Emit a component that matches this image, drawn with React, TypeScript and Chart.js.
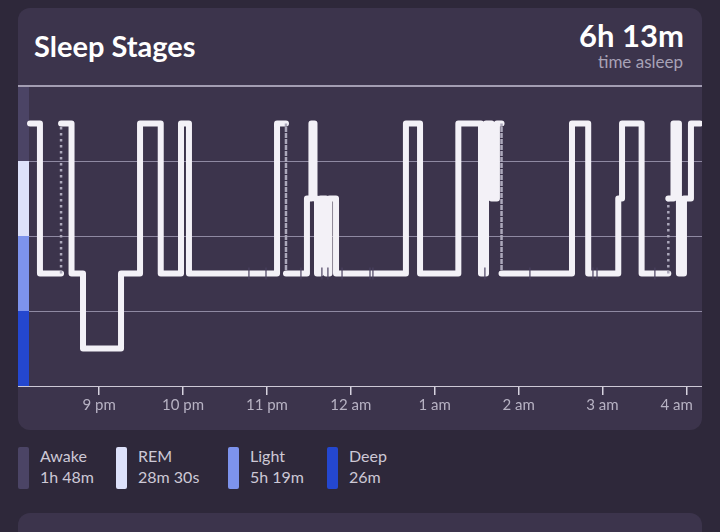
import React, { useEffect, useRef } from 'react';
import { Chart, registerables } from 'chart.js';

Chart.register(...registerables);

// Minutes after 8:00 pm at which each sleep stage begins
const stageChangeMinutes = [
  10.5, 17.6, 32.7, 40.2, 48.4, 75.6, 89.2, 104.0, 118.5, 124.2,
  187.2, 193.6, 208.6, 211.8, 214.0, 215.8, 218.3, 222.2, 224.7, 229.4,
  279.4, 289.5, 316.9, 333.1, 336.7, 340.6, 344.5, 347.8, 398.2, 409.8,
  431.3, 434.0, 448.0, 467.1, 470.8, 474.7, 478.3, 483.3,
];
const stageSequence = [
  'Awake', 'Light', 'Awake', 'Light', 'Deep', 'Light', 'Awake', 'Light', 'Awake', 'Light',
  'Awake', 'Light', 'REM', 'Awake', 'REM', 'Light', 'REM', 'Light', 'REM', 'Light',
  'Awake', 'Light', 'Awake', 'Light', 'Awake', 'REM', 'Awake', 'Light', 'Awake', 'Light',
  'REM', 'Awake', 'Light', 'REM', 'Awake', 'Light', 'REM', 'Awake',
];
const sleepEndMinute = 489.7;
// Transitions drawn as dotted lines
const dottedChangeMinutes = [32.7, 193.6, 347.8, 467.1];
// Brief restless moments marked on the Light level
const briefMarkMinutes = [167.1, 179.3, 204.3, 219.3, 223.6, 233.7, 253.7, 255.8, 335.9, 368.1, 413.2, 416.1, 457.5];

// Stage bands, bottom to top
const bandStages = ['Deep', 'Light', 'REM', 'Awake'];
const bandColors = ['#2447cf', '#7d93ec', '#dde1fa', '#4b4465'];

// Legend
const legendStages = ['Awake', 'REM', 'Light', 'Deep'];
const legendDurations = ['1h 48m', '28m 30s', '5h 19m', '26m'];
const legendColors = ['#4b4465', '#dde1fa', '#7d93ec', '#2447cf'];

// X axis
const axisMinMinute = 1.9;
const axisMaxMinute = 491.2;
const hourTickMinutes = [60, 120, 180, 240, 300, 360, 420, 480];
const hourTickLabels = ['9 pm', '10 pm', '11 pm', '12 am', '1 am', '2 am', '3 am', '4 am\u00a0\u00a0\u00a0\u00a0\u00a0'];

const FONT = 'Lato, "Open Sans", sans-serif';
const levelOf = (stage: string) => bandStages.indexOf(stage) + 0.5;

export default function App() {
  const canvasRef = useRef<HTMLCanvasElement>(null);

  useEffect(() => {
    document.body.style.margin = '0';
    const canvas = canvasRef.current;
    if (!canvas) return;

    const points: { x: number; y: number }[] = [];
    const dottedSegments = new Set<number>();
    let prev: number | null = null;
    stageChangeMinutes.forEach((t, i) => {
      const lvl = levelOf(stageSequence[i]);
      if (prev !== null) {
        points.push({ x: t, y: prev });
        if (dottedChangeMinutes.includes(t)) dottedSegments.add(points.length - 1);
      }
      points.push({ x: t, y: lvl });
      prev = lvl;
    });
    points.push({ x: sleepEndMinute, y: prev as number });

    const markPoints = briefMarkMinutes.map((m) => ({ x: m, y: levelOf('Light') }));

    const bandPlugin = {
      id: 'stageBands',
      beforeDatasetsDraw(chart: any) {
        const { ctx, chartArea, scales } = chart;
        const y = scales.y;
        ctx.save();
        bandColors.forEach((c, i) => {
          const top = y.getPixelForValue(i + 1) + (i === 3 ? 1 : 0);
          const bottom = y.getPixelForValue(i);
          ctx.fillStyle = c;
          ctx.fillRect(chartArea.left, top, 11, bottom - top);
        });
        ctx.restore();
      },
    };

    const isDotted = (ctx: any) => dottedSegments.has(ctx.p0DataIndex);

    const chart = new Chart(canvas, {
      type: 'line',
      data: {
        datasets: [
          {
            label: 'marks',
            data: markPoints,
            showLine: false,
            pointStyle: 'line',
            rotation: 90,
            pointRadius: 6,
            pointBorderColor: '#4a4160',
            pointBorderWidth: 1.2,
            order: -1,
            clip: false,
          } as any,
          {
            label: 'stage',
            data: points,
            borderColor: '#f3f1f7',
            borderWidth: 6,
            borderJoinStyle: 'round',
            borderCapStyle: 'round',
            pointRadius: 0,
            tension: 0,
            clip: false,
            segment: {
              borderColor: (ctx: any) => (isDotted(ctx) ? '#aca8bb' : undefined),
              borderWidth: (ctx: any) => (isDotted(ctx) ? 2.5 : undefined),
              borderDash: (ctx: any) => (isDotted(ctx) ? [2.5, 3.5] : undefined),
              borderCapStyle: (ctx: any) => (isDotted(ctx) ? 'butt' : undefined),
            },
          } as any,
        ],
      },
      options: {
        responsive: false,
        animation: false,
        events: [],
        layout: { autoPadding: false, padding: { top: 6, left: 0, right: 0, bottom: 0 } },
        plugins: { legend: { display: false }, tooltip: { enabled: false } },
        scales: {
          x: {
            type: 'linear',
            min: axisMinMinute,
            max: axisMaxMinute,
            afterBuildTicks: (s: any) => {
              s.ticks = hourTickMinutes.map((v) => ({ value: v }));
            },
            afterFit: (s: any) => {
              s.height = 40;
              s.paddingLeft = 0;
              s.paddingRight = 0;
            },
            grid: {
              drawOnChartArea: false,
              drawTicks: true,
              tickLength: 9,
              color: '#d6d2de',
              lineWidth: 1.5,
            },
            border: { display: true, color: '#cdc9d6', width: 1 },
            ticks: {
              autoSkip: false,
              maxRotation: 0,
              padding: 1,
              color: '#b7b2c3',
              font: { family: FONT, size: 15 },
              callback: (value: any) => {
                const i = hourTickMinutes.indexOf(Number(value));
                return i >= 0 ? hourTickLabels[i] : '';
              },
            },
          },
          y: {
            type: 'linear',
            min: 0,
            max: 4,
            afterFit: (s: any) => {
              s.width = 0;
              s.paddingTop = 0;
              s.paddingBottom = 0;
            },
            ticks: { display: false, stepSize: 1 },
            border: { display: false },
            grid: {
              drawTicks: false,
              color: (ctx: any) => (ctx.tick && ctx.tick.value === 4 ? '#a39db2' : ctx.tick && ctx.tick.value === 0 ? '#cdc9d6' : '#8f89a2'),
              lineWidth: (ctx: any) => (ctx.tick && ctx.tick.value === 4 ? 2 : 1),
            },
          },
        },
      },
      plugins: [bandPlugin],
    } as any);

    return () => chart.destroy();
  }, []);

  return (
    <div style={{ position: 'fixed', left: 0, top: 0, width: 720, height: 532, background: '#2e283a', overflow: 'hidden', fontFamily: FONT }}>
      <div style={{ position: 'absolute', left: 18, top: 8, width: 684, height: 422, background: '#3c344c', borderRadius: 12 }} />
      <div style={{ position: 'absolute', left: 18, top: 513, width: 684, height: 60, background: '#3c344c', borderRadius: 12 }} />
      <div style={{ position: 'absolute', left: 34, top: 31, fontSize: 29, lineHeight: '29px', fontWeight: 700, color: '#ffffff', whiteSpace: 'nowrap' }}>
        Sleep Stages
      </div>
      <div style={{ position: 'absolute', right: 36, top: 20, fontSize: 31, lineHeight: '31px', fontWeight: 700, color: '#ffffff', whiteSpace: 'nowrap', textAlign: 'right' }}>
        6h 13m
      </div>
      <div style={{ position: 'absolute', right: 37, top: 53, fontSize: 17, lineHeight: '17px', color: '#a8a2b6', whiteSpace: 'nowrap', textAlign: 'right' }}>
        time asleep
      </div>
      <canvas ref={canvasRef} width={684} height={346} style={{ position: 'absolute', left: 18, top: 80, width: 684, height: 346, display: 'block' }} />
      {legendStages.map((s, i) => {
        const left = [18, 116, 228, 327][i];
        return (
          <React.Fragment key={s}>
            <div style={{ position: 'absolute', left, top: 447, width: 11, height: 42, background: legendColors[i], borderRadius: 2 }} />
            <div style={{ position: 'absolute', left: left + 22, top: 448, fontSize: 16, lineHeight: '16px', color: '#cdc8d6', whiteSpace: 'nowrap' }}>{s}</div>
            <div style={{ position: 'absolute', left: left + 22, top: 469, fontSize: 16, lineHeight: '16px', color: '#cdc8d6', whiteSpace: 'nowrap' }}>{legendDurations[i]}</div>
          </React.Fragment>
        );
      })}
    </div>
  );
}
